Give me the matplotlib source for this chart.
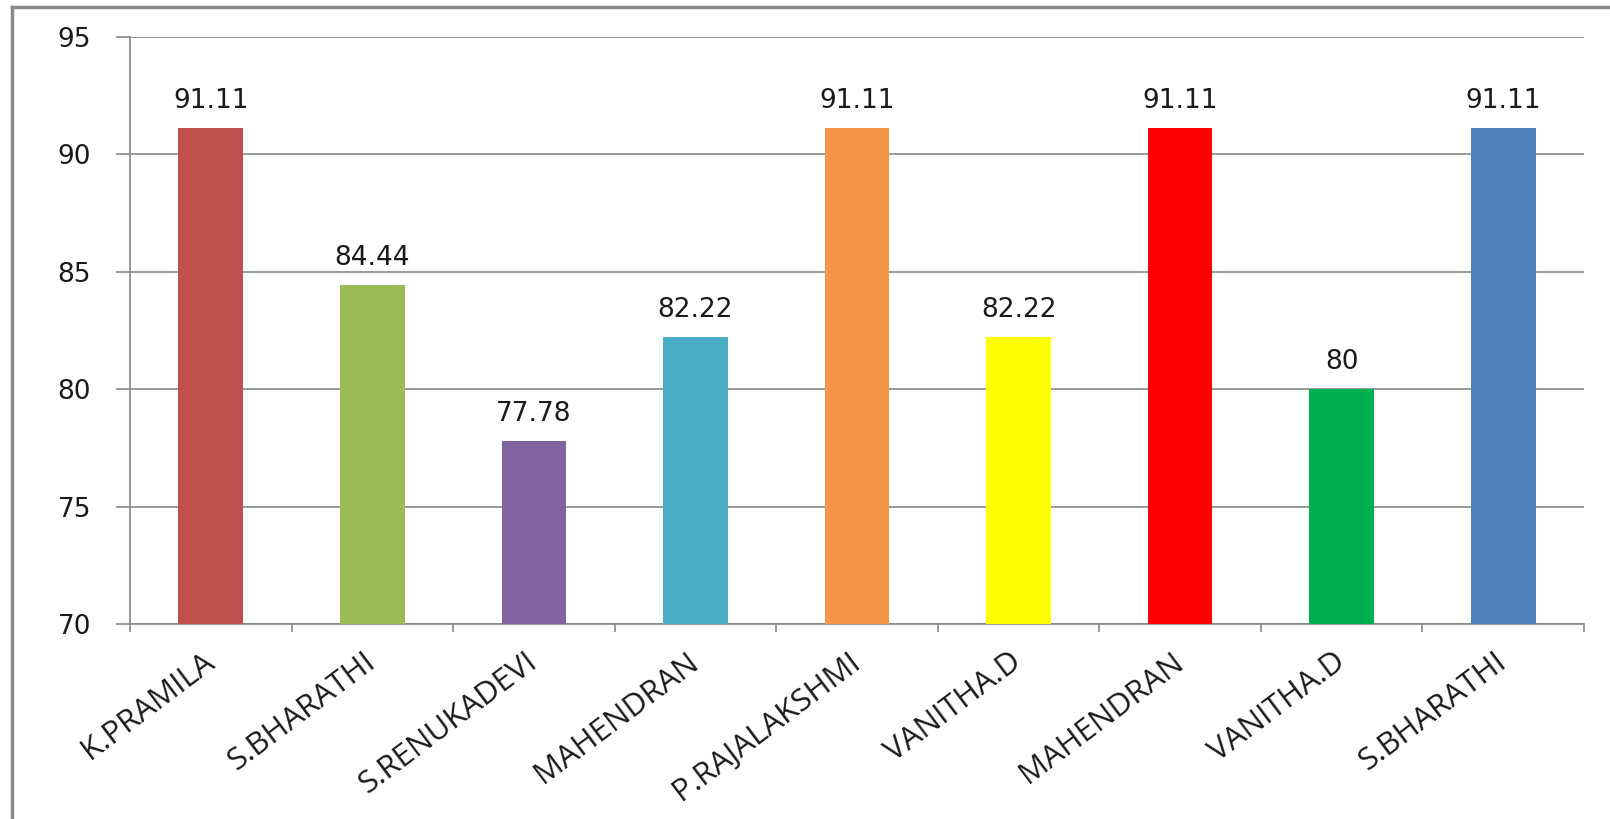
import numpy as np
import matplotlib
matplotlib.use("Agg")
import matplotlib.pyplot as plt
from matplotlib.lines import Line2D


# ============================================================
# 数据
# ============================================================
names = ["K.PRAMILA", "S.BHARATHI", "S.RENUKADEVI", "MAHENDRAN",
         "P.RAJALAKSHMI", "VANITHA.D", "MAHENDRAN", "VANITHA.D", "S.BHARATHI"]
scores = [91.11, 84.44, 77.78, 82.22, 91.11, 82.22, 91.11, 80, 91.11]
score_labels = ["91.11", "84.44", "77.78", "82.22", "91.11", "82.22", "91.11", "80", "91.11"]
bar_colors = ["#C0504D", "#9BBB59", "#8064A2", "#4BACC6", "#F79646",
              "#FFFF00", "#FF0000", "#00B050", "#4F81BD"]
y_ticks = [70, 75, 80, 85, 90, 95]

GRID = "#878787"


# ============================================================
# 画图
# ============================================================
fig = plt.figure(figsize=(16.1, 8.19), dpi=100)
ax = fig.add_axes([130 / 1610, 1 - 624 / 819, 1454 / 1610, 587 / 819])

x = np.arange(len(names))
ax.bar(x, scores, width=0.40, color=bar_colors, zorder=3)

# 柱顶数值
for xi, v, s in zip(x, scores, score_labels):
    ax.annotate(s, (xi, v), xytext=(0, 14.5), textcoords="offset points",
                ha="center", va="baseline", fontsize=19, color="#1a1a1a",
                family="DejaVu Sans")

ax.set_xlim(-0.5, len(names) - 0.5)
ax.set_ylim(70, 95)
ax.set_yticks(y_ticks)
ax.set_yticklabels([str(t) for t in y_ticks], fontsize=19, color="#1a1a1a",
                   family="DejaVu Sans")
ax.grid(axis="y", color=GRID, linewidth=1.2, zorder=0)

# x 轴: 刻度在类别边界, 标签在类别中心
ax.set_xticks(np.arange(len(names) + 1) - 0.5)
ax.set_xticklabels([])
ax.set_xticks(x, minor=True)
ax.set_xticklabels(names, minor=True, rotation=37, ha="right", va="center",
                   rotation_mode="anchor", fontsize=22.5, family="Open Sans",
                   color="#1a1a1a")
ax.tick_params(axis="x", which="major", length=6, width=1.2, color=GRID)
ax.tick_params(axis="x", which="minor", length=0, pad=25)
ax.tick_params(axis="y", length=10, width=1.2, color=GRID, pad=18)

for side in ["top", "right"]:
    ax.spines[side].set_visible(False)
for side in ["left", "bottom"]:
    ax.spines[side].set_color(GRID)
    ax.spines[side].set_linewidth(1.2)

# 外框 (左边和上边)
fig.add_artist(Line2D([12 / 1610, 12 / 1610], [0, 1 - 7 / 819],
                      color="#8a8a8a", linewidth=2.5))
fig.add_artist(Line2D([12 / 1610, 1], [1 - 7 / 819, 1 - 7 / 819],
                      color="#8a8a8a", linewidth=2.5))

fig.savefig("out.png", dpi=100)
